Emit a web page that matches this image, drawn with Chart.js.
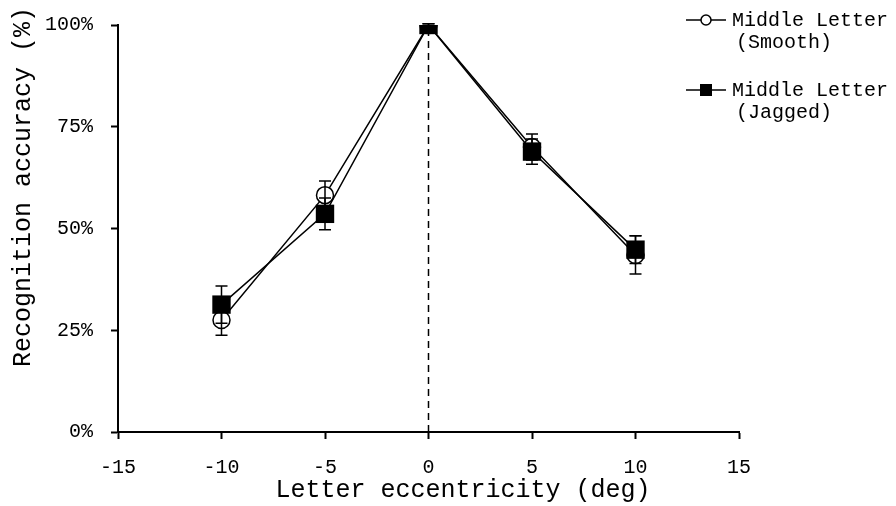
<!DOCTYPE html>
<html>
<head>
<meta charset="utf-8">
<script src="https://cdn.jsdelivr.net/npm/chart.js@4/dist/chart.umd.min.js"></script>
<style>
  html, body { margin: 0; padding: 0; background: #fff; }
  #wrap { width: 896px; height: 506px; position: relative; }
</style>
</head>
<body>
<div id="wrap"><canvas id="c" width="896" height="506"></canvas></div>
<script>
const eccentricities = [-10, -5, 0, 5, 10];
const smoothValues = [27.5, 58.2, 100, 70.0, 43.5];
const smoothErrors = [3.7, 3.5, 0.3, 3.2, 4.7];
const jaggedValues = [31.3, 53.6, 100, 68.9, 44.8];
const jaggedErrors = [4.6, 3.9, 0.3, 3.1, 3.4];
const seriesNames = [["Middle Letter", "(Smooth)"], ["Middle Letter", "(Jagged)"]];
const xTicks = [-15, -10, -5, 0, 5, 10, 15];
const yTicks = [0, 25, 50, 75, 100];
const xTitle = "Letter eccentricity (deg)";
const yTitle = "Recognition accuracy (%)";

const FONT = "'Liberation Mono', 'Courier New', monospace";

const extrasPlugin = {
  id: 'extras',
  beforeDatasetsDraw(chart) {
    const ctx = chart.ctx, x = chart.scales.x, y = chart.scales.y;
    ctx.save();
    ctx.strokeStyle = '#000';
    ctx.lineWidth = 1.5;
    ctx.setLineDash([7, 5]);
    ctx.beginPath();
    ctx.moveTo(x.getPixelForValue(0), y.getPixelForValue(0));
    ctx.lineTo(x.getPixelForValue(0), y.getPixelForValue(100));
    ctx.stroke();
    ctx.restore();
  },
  afterDatasetsDraw(chart) {
    const ctx = chart.ctx, x = chart.scales.x, y = chart.scales.y;
    const sets = [[smoothValues, smoothErrors], [jaggedValues, jaggedErrors]];
    ctx.save();
    ctx.strokeStyle = '#000';
    ctx.lineWidth = 1.5;
    sets.forEach(([vals, errs]) => {
      eccentricities.forEach((e, i) => {
        const px = x.getPixelForValue(e);
        const top = y.getPixelForValue(vals[i] + errs[i]);
        const bot = y.getPixelForValue(vals[i] - errs[i]);
        ctx.beginPath();
        ctx.moveTo(px, top); ctx.lineTo(px, bot);
        ctx.moveTo(px - 6, top); ctx.lineTo(px + 6, top);
        ctx.moveTo(px - 6, bot); ctx.lineTo(px + 6, bot);
        ctx.stroke();
      });
    });
    ctx.restore();
  },
  afterDraw(chart) {
    const ctx = chart.ctx;
    ctx.save();
    ctx.fillStyle = '#000';
    ctx.font = "25px " + FONT;
    ctx.textAlign = 'center';
    ctx.textBaseline = 'middle';
    ctx.fillText(xTitle, 463, 490);
    ctx.translate(23, 187);
    ctx.rotate(-Math.PI / 2);
    ctx.fillText(yTitle, 0, 0);
    ctx.restore();

    ctx.save();
    ctx.strokeStyle = '#000';
    ctx.fillStyle = '#000';
    ctx.lineWidth = 1.5;
    const rows = [20, 90];
    rows.forEach((ly, k) => {
      ctx.beginPath();
      ctx.moveTo(686, ly); ctx.lineTo(726, ly);
      ctx.stroke();
      if (k === 0) {
        ctx.beginPath();
        ctx.fillStyle = '#fff';
        ctx.arc(706, ly, 5, 0, Math.PI * 2);
        ctx.fill();
        ctx.stroke();
      } else {
        ctx.fillStyle = '#000';
        ctx.fillRect(700, ly - 6, 12, 12);
      }
      ctx.fillStyle = '#000';
      ctx.font = "20px " + FONT;
      ctx.textAlign = 'left';
      ctx.textBaseline = 'middle';
      ctx.fillText(seriesNames[k][0], 732, ly + 1);
      ctx.fillText(seriesNames[k][1], 736, ly + 23);
    });
    ctx.restore();
  }
};

new Chart(document.getElementById('c'), {
  type: 'line',
  data: {
    datasets: [
      {
        label: seriesNames[1].join(' '),
        data: eccentricities.map((e, i) => ({ x: e, y: jaggedValues[i] })),
        borderColor: '#000',
        borderWidth: 1.5,
        backgroundColor: '#000',
        pointStyle: 'rect',
        pointRadius: 13,
        pointBorderWidth: 0,
        pointBackgroundColor: '#000',
        tension: 0,
        order: 0
      },
      {
        label: seriesNames[0].join(' '),
        data: eccentricities.map((e, i) => ({ x: e, y: smoothValues[i] })),
        borderColor: '#000',
        borderWidth: 1.5,
        backgroundColor: '#fff',
        pointStyle: 'circle',
        pointRadius: 8.5,
        pointBorderWidth: 1.5,
        pointBackgroundColor: '#fff',
        pointBorderColor: '#000',
        tension: 0,
        order: 1
      }
    ]
  },
  options: {
    responsive: false,
    animation: false,
    devicePixelRatio: 1,
    layout: { padding: { left: 0, right: 157, top: 25, bottom: 0 } },
    plugins: { legend: { display: false }, tooltip: { enabled: false } },
    scales: {
      x: {
        type: 'linear',
        min: -15, max: 15,
        afterBuildTicks(scale) { scale.ticks = xTicks.map(v => ({ value: v })); },
        afterFit(scale) { scale.height = 74; scale.paddingLeft = 0; scale.paddingRight = 0; },
        grid: { drawOnChartArea: false, color: '#000', tickLength: 7, tickWidth: 2 },
        border: { color: '#000', width: 2 },
        ticks: { color: '#000', font: { family: FONT, size: 20 }, padding: 17, maxRotation: 0 }
      },
      y: {
        type: 'linear',
        min: 0, max: 100,
        afterBuildTicks(scale) { scale.ticks = yTicks.map(v => ({ value: v })); },
        afterFit(scale) { scale.width = 118; scale.paddingTop = 0; scale.paddingBottom = 0; },
        grid: { drawOnChartArea: false, color: '#000', tickLength: 7, tickWidth: 2 },
        border: { color: '#000', width: 2 },
        ticks: { color: '#000', font: { family: FONT, size: 20 }, padding: 18,
                 callback: v => v + '%' }
      }
    }
  },
  plugins: [extrasPlugin]
});
</script>
</body>
</html>
